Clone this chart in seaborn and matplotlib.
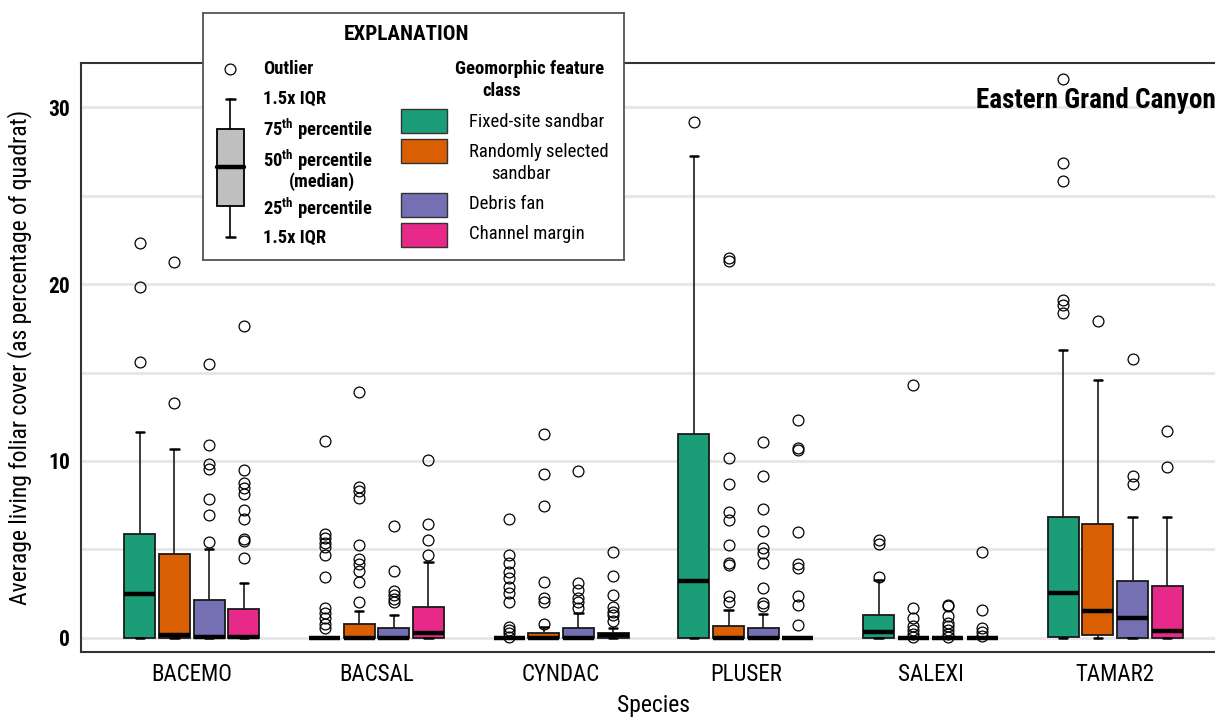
import matplotlib
matplotlib.use("Agg")
import matplotlib.pyplot as plt
from matplotlib.patches import Rectangle
import pandas as pd
import seaborn as sns

# ---- data -------------------------------------------------------------
SPECIES = ["BACEMO", "BACSAL", "CYNDAC", "PLUSER", "SALEXI", "TAMAR2"]
CLASSES = ["Fixed-site sandbar", "Randomly selected sandbar", "Debris fan", "Channel margin"]
COLORS = ["#1b9e77", "#d95f02", "#7570b3", "#e7298a"]

# box statistics per species (rows) and feature class (columns)
WHISKER_LO = [
    [0, 0, 0, 0],
    [0, 0, 0, 0],
    [0, 0, 0, 0],
    [0, 0, 0, 0],
    [0, 0, 0, 0],
    [0, 0, 0, 0],
]
Q1 = [
    [0, 0, 0, 0],
    [0, 0, 0, 0],
    [0, 0, 0, 0],
    [0, 0, 0, 0],
    [0, 0, 0, 0],
    [0.06, 0.15, 0, 0],
]
MEDIAN = [
    [2.49, 0.15, 0.06, 0.02],
    [0, 0, 0, 0.25],
    [0, 0, 0, 0.15],
    [3.20, 0, 0, 0],
    [0.32, 0, 0, 0],
    [2.55, 1.53, 1.13, 0.36],
]
Q3 = [
    [5.85, 4.72, 2.13, 1.61],
    [0, 0.78, 0.53, 1.76],
    [0, 0.28, 0.57, 0.28],
    [11.51, 0.66, 0.56, 0],
    [1.32, 0, 0, 0],
    [6.81, 6.45, 3.19, 2.94],
]
WHISKER_HI = [
    [11.66, 10.68, 5.02, 3.11],
    [0, 1.49, 1.28, 4.28],
    [0, 0.62, 1.38, 0.53],
    [27.22, 1.59, 1.35, 0],
    [3.25, 0, 0, 0],
    [16.28, 14.57, 6.81, 6.81],
]
OUTLIERS = [
    [  # BACEMO
        [22.3, 19.86, 15.62],
        [21.26, 13.3],
        [15.49, 10.92, 9.83, 9.53, 7.87, 6.96, 5.40],
        [17.62, 9.49, 8.74, 8.45, 8.11, 7.23, 6.70, 5.59, 5.49, 4.53],
    ],
    [  # BACSAL
        [11.15, 5.87, 5.63, 5.38, 5.15, 4.66, 3.43, 1.66, 1.38, 1.10, 0.81, 0.53],
        [13.9, 8.55, 8.32, 7.92, 5.23, 4.44, 4.17, 3.79, 3.15, 2.02],
        [6.30, 3.76, 2.63, 2.42, 2.21, 2.00],
        [10.06, 6.42, 5.55, 4.66],
    ],
    [  # CYNDAC
        [6.72, 4.68, 4.21, 3.74, 3.36, 2.89, 2.51, 2.04, 0.62, 0.44, 0.25, 0.06],
        [11.55, 9.26, 7.47, 3.17, 2.23, 2.04, 0.81],
        [9.43, 3.08, 2.70, 2.23, 2.04, 1.66],
        [4.87, 3.51, 2.42, 1.76, 1.47, 1.28, 0.94],
    ],
    [  # PLUSER
        [29.18],
        [21.5, 21.3, 10.18, 8.70, 7.11, 6.65, 5.26, 4.23, 4.13, 2.34, 2.0],
        [11.08, 9.13, 7.29, 6.06, 5.06, 4.82, 4.23, 2.84, 1.95, 1.81],
        [12.33, 10.72, 10.62, 5.96, 4.17, 3.93, 2.38, 1.85, 0.75],
    ],
    [  # SALEXI
        [5.55, 5.31, 3.46],
        [14.3, 1.69, 1.13, 0.66, 0.43, 0.19, 0.05],
        [1.88, 1.79, 1.22, 0.85, 0.66, 0.43, 0.19, 0.05],
        [4.86, 1.60, 0.56, 0.32, 0.10],
    ],
    [  # TAMAR2
        [31.6, 26.87, 25.81, 19.09, 18.83, 18.36],
        [17.91],
        [15.74, 9.15, 8.72],
        [11.70, 9.64],
    ],
]

Y_TICKS = [0, 10, 20, 30]
Y_MINOR = [5, 15, 25]


def sample_from_summary(lo, q1, med, q3, hi, fliers):
    """Value list whose quartiles, whiskers and fliers equal the given summary."""
    m = len(fliers) + 1
    return [lo] + [q1] * m + [med] * m + [q3] * m + [hi] + list(fliers)


rows = []
for i, sp in enumerate(SPECIES):
    for j, cl in enumerate(CLASSES):
        vals = sample_from_summary(WHISKER_LO[i][j], Q1[i][j], MEDIAN[i][j],
                                   Q3[i][j], WHISKER_HI[i][j], OUTLIERS[i][j])
        rows += [(sp, cl, v) for v in vals]
df = pd.DataFrame(rows, columns=["species", "feature", "cover"])

# ---- style ------------------------------------------------------------
sns.set_theme(style="white")
FONT = ["Roboto Condensed", "Roboto", "DejaVu Sans"]
plt.rcParams["font.family"] = FONT
plt.rcParams["mathtext.fontset"] = "custom"
plt.rcParams["mathtext.bf"] = "Roboto Condensed:bold"
plt.rcParams["mathtext.rm"] = "Roboto Condensed"
for key in ["text.color", "axes.labelcolor", "xtick.color", "ytick.color"]:
    plt.rcParams[key] = "black"

W, H = 1215, 717
fig = plt.figure(figsize=(W / 100, H / 100), dpi=100)
# plot area (pixel box: left 81, top 63, bottom 652, right 1226)
ax = fig.add_axes([81 / W, 1 - 652 / H, (1226 - 81) / W, (652 - 63) / H])

sns.boxplot(
    data=df, x="species", y="cover", hue="feature",
    order=SPECIES, hue_order=CLASSES, palette=COLORS, saturation=1,
    width=0.75, gap=0.1, whis=1.5, linecolor="#1a1a1a", linewidth=1.3,
    fliersize=7.8, legend=False, ax=ax,
    flierprops=dict(marker="o", markerfacecolor="none", markeredgecolor="black",
                    markeredgewidth=0.9),
    medianprops=dict(color="black", linewidth=3.2),
    whiskerprops=dict(color="#1a1a1a", linewidth=1.2),
    capprops=dict(color="black", linewidth=1.8),
    capwidths=0.045,
)

ax.set_xlim(-0.6, 5.6)
ax.set_ylim(-0.8, 32.5)
ax.set_yticks(Y_TICKS)
ax.set_yticks(Y_MINOR, minor=True)
ax.grid(axis="y", which="both", color="#e6e6e6", linewidth=2, zorder=0)
ax.set_axisbelow(True)
ax.tick_params(axis="y", which="major", direction="in", length=13, width=1.4,
               color="black", pad=8, labelsize=15.5)
ax.tick_params(axis="y", which="minor", length=0)
ax.tick_params(axis="x", length=0, pad=8, labelsize=16.5)
for lab in ax.get_yticklabels():
    lab.set_fontweight("bold")
for side in ["left", "top", "bottom"]:
    ax.spines[side].set_color("#333333")
    ax.spines[side].set_linewidth(1.5)
ax.spines["right"].set_visible(False)

ax.set_ylabel("Average living foliar cover (as percentage of quadrat)", fontsize=17)
ax.yaxis.set_label_coords(-0.043, 0.5)
ax.set_xlabel("Species", fontsize=17)
ax.xaxis.set_label_coords(0.5, -0.071)

ax.text(1216 / W, 1 - 100 / H, "Eastern Grand Canyon", transform=fig.transFigure,
        ha="right", va="center", fontsize=19.5, fontweight="bold")

# ---- explanation panel (pixel coordinates) -----------------------------
lg = fig.add_axes([203 / W, 1 - 260 / H, (624 - 203) / W, (260 - 13) / H])
lg.set_xlim(203, 624)
lg.set_ylim(260, 13)
lg.set_xticks([])
lg.set_yticks([])
lg.set_facecolor("white")
for s in lg.spines.values():
    s.set_color("#555555")
    s.set_linewidth(1.3)

lg.text(407, 34, "EXPLANATION", ha="center", va="center", fontsize=15.2, fontweight="bold")
lg.plot([230], [69], "o", mfc="none", mec="black", ms=7.8, mew=0.9)
lg.plot([230, 230], [99, 129], color="black", lw=1.2)
lg.plot([230, 230], [206, 237], color="black", lw=1.2)
lg.plot([226, 235], [99, 99], color="black", lw=1.8)
lg.plot([226, 235], [237, 237], color="black", lw=1.8)
lg.add_patch(Rectangle((217, 129), 27, 77, facecolor="#bfbfbf", edgecolor="black", lw=1.3))
lg.plot([217, 244], [167, 167], color="black", lw=3.2)

bold = dict(ha="left", va="center", fontsize=13.3, fontweight="bold")
lg.text(263, 69, "Outlier", **bold)
lg.text(263, 99, "1.5x IQR", **bold)
lg.text(263, 129, r"75$^{\mathbf{th}}$ percentile", **bold)
lg.text(263, 160, r"50$^{\mathbf{th}}$ percentile", **bold)
lg.text(322, 182, "(median)", ha="center", va="center", fontsize=13.3, fontweight="bold")
lg.text(263, 208, r"25$^{\mathbf{th}}$ percentile", **bold)
lg.text(263, 238, "1.5x IQR", **bold)

lg.text(530, 69, "Geomorphic feature", ha="center", va="center", fontsize=13.5, fontweight="bold")
lg.text(502, 91, "class", ha="center", va="center", fontsize=13.5, fontweight="bold")
patch_y = [109, 139, 193, 223]
for c, y in zip(COLORS, patch_y):
    lg.add_patch(Rectangle((401, y), 46, 24, facecolor=c, edgecolor="#333333", lw=1))
item = dict(ha="left", va="center", fontsize=13.5)
lg.text(469, 122, "Fixed-site sandbar", **item)
lg.text(469, 152, "Randomly selected", **item)
lg.text(521, 174, "sandbar", ha="center", va="center", fontsize=13.5)
lg.text(469, 204, "Debris fan", **item)
lg.text(469, 234, "Channel margin", **item)

fig.savefig("out.png", dpi=100)
